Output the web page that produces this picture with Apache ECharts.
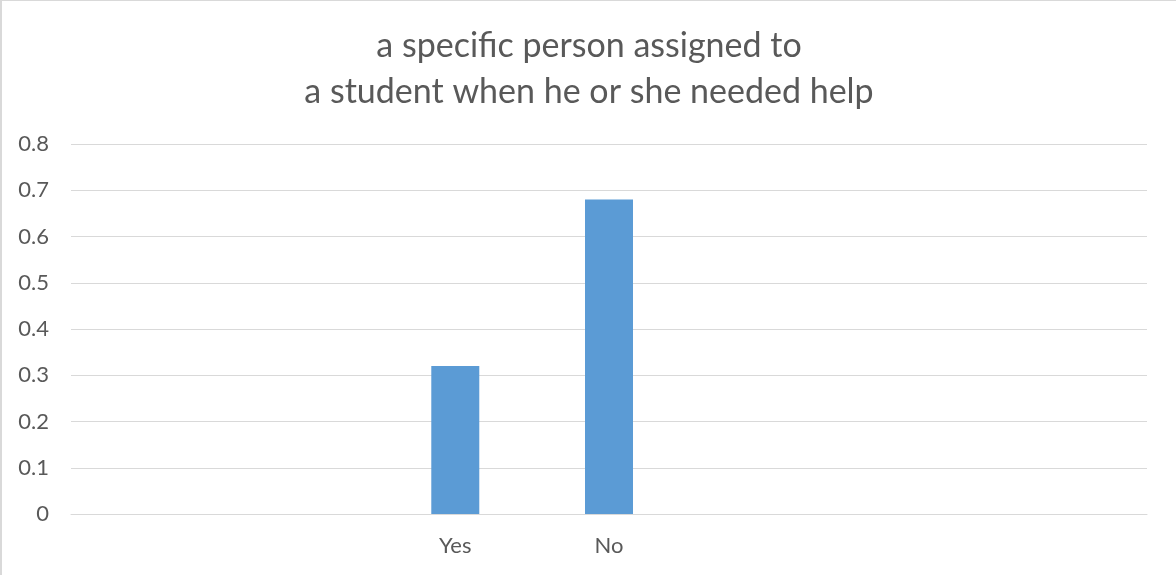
<!DOCTYPE html>
<html>
<head>
<meta charset="utf-8">
<script src="https://cdn.jsdelivr.net/npm/echarts@6/dist/echarts.min.js"></script>
<style>
  html, body { margin: 0; padding: 0; background: #fff; }
  #chart { width: 1176px; height: 575px; box-sizing: border-box; border-left: 2px solid #d9d9d9; border-top: 1px solid #d9d9d9; }
</style>
</head>
<body>
<div id="chart"></div>
<script>
// Survey answers: share of respondents per category slot
const categories = ['', '', 'Yes', 'No', '', '', ''];
const shares = [null, null, 0.32, 0.68, null, null, null];
const yTicks = { min: 0, max: 0.8, interval: 0.1 };
const titleLines = ['a specific person assigned to', 'a student when he or she needed help'];

const fontFamily = 'Lato, "Open Sans", sans-serif';
const chart = echarts.init(document.getElementById('chart'));
chart.setOption({
  animation: false,
  title: {
    text: titleLines.join('\n'),
    left: 'center',
    top: 17,
    textStyle: { fontFamily, fontSize: 34, fontWeight: 'normal', color: '#595959', lineHeight: 46 }
  },
  grid: { left: 69, right: 29, top: 143, bottom: 61 },
  xAxis: {
    type: 'category',
    data: categories,
    axisTick: { show: false },
    axisLine: { lineStyle: { color: '#d9d9d9', width: 1 } },
    axisLabel: { color: '#595959', fontFamily, fontSize: 22, margin: 21 }
  },
  yAxis: {
    type: 'value',
    min: yTicks.min,
    max: yTicks.max,
    interval: yTicks.interval,
    axisLine: { show: false },
    axisTick: { show: false },
    splitLine: { lineStyle: { color: '#d9d9d9', width: 1 } },
    axisLabel: { color: '#595959', fontFamily, fontSize: 22, margin: 22,
      formatter: v => Number(v.toFixed(1)).toString() }
  },
  series: [{
    type: 'bar',
    data: shares,
    barWidth: 48,
    itemStyle: { color: '#5b9bd5' }
  }]
});
</script>
</body>
</html>
